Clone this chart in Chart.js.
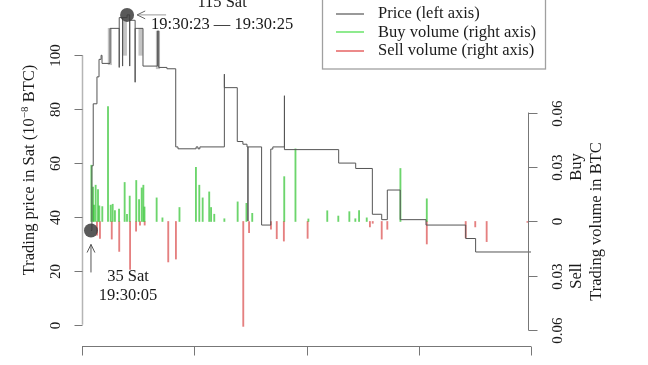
<!DOCTYPE html>
<html>
<head>
<meta charset="utf-8">
<script src="https://cdn.jsdelivr.net/npm/chart.js@4"></script>
<style>
  body { margin: 0; background: #fff; }
  #wrap { width: 648px; height: 365px; }
</style>
</head>
<body>
<div id="wrap"><canvas id="priceChart" width="648" height="365"></canvas></div>
<script>
// time axis is seconds after 19:30:00
const priceTimes = [4.8, 5.3, 6.0, 8.0, 9.1, 10.2, 10.7, 15.0, 19.9, 19.9, 21.7, 21.7, 24.1, 25.5, 25.5,
  28.4, 28.4, 32.6, 40.3, 41.0, 45.4, 50.1, 51.3, 61.0, 62.0, 63.0, 76.1, 76.1, 83.0, 86.0, 88.2,
  88.7, 88.7, 96.0, 100.9, 102.0, 108.2, 108.2, 137.2, 146.3, 155.2, 160.2, 163.2, 170.1, 183.9,
  205.1, 210.4, 240];
const priceValues = [35, 59, 82, 92, 98.5, 100, 97, 110, 95.5, 114, 96, 114, 115, 96, 113,
  90, 110, 96, 109, 95.5, 95, 66, 65.3, 66, 65.3, 66, 93, 88, 68, 67, 66,
  38.5, 66, 37, 65.2, 66, 85, 65, 60, 58, 41, 39, 50, 39, 37,
  32, 27, 27];

// low/high price range within a second
const rangeTimes = [14.9, 22.9, 31.3, 40.6];
const rangeLow = [96.5, 100, 100, 95];
const rangeHigh = [110, 113, 110, 109];

const buyTimes = [5.0, 5.9, 6.4, 7.3, 8.55, 9.25, 10.85, 13.9, 15.35, 16.4, 17.6, 19.8, 22.8, 24.05,
  25.5, 29.0, 30.5, 31.9, 32.8, 33.4, 39.9, 43.0, 52.1, 60.9, 62.7, 64.5, 68.0, 69.0, 70.7, 76.1,
  83.2, 87.9, 91.0, 108.1, 114.1, 121.0, 131.1, 137.0, 142.9, 146.1, 148.1, 152.2, 170.2, 184.3];
const buyVolumes = [0.031, 0.019, 0.009, 0.02, 0.0176, 0.0086, 0.0082, 0.0633, 0.009, 0.0095, 0.006,
  0.0068, 0.0215, 0.004, 0.014, 0.0226, 0.012, 0.0185, 0.02, 0.008, 0.013, 0.002, 0.0077, 0.0298,
  0.02, 0.013, 0.0163, 0.0077, 0.004, 0.0015, 0.0108, 0.01, 0.0045, 0.0247, 0.04, 0.0014, 0.0059,
  0.003, 0.0054, 0.0015, 0.006, 0.002, 0.0292, 0.0125];

const sellTimes = [8.0, 9.6, 15.9, 19.9, 25.7, 28.9, 31.0, 33.5, 46.1, 50.2, 86.2, 89.3, 101.0, 104.1,
  107.9, 120.6, 153.9, 155.4, 160.2, 163.2, 184.3, 205.1, 210.2, 216.3, 238.1];
const sellVolumes = [0.0075, 0.0094, 0.0097, 0.0165, 0.0264, 0.0053, 0.002, 0.002, 0.0223, 0.0207,
  0.0578, 0.0061, 0.0043, 0.0095, 0.0108, 0.0093, 0.003, 0.001, 0.0097, 0.0043, 0.0124, 0.009,
  0.003, 0.0111, 0.0005];

const priceTicks = [0, 20, 40, 60, 80, 100];
const volumeTicks = [0.06, 0.03, 0, -0.03, -0.06];
const timeTicks = [0, 60, 120, 180, 240];

const lowPoint = { t: 4.8, price: 35, label: ['35 Sat', '19:30:05'] };
const highPoint = { t: 24.1, price: 115, label: ['115 Sat', '19:30:23 \u2014 19:30:25'] };

const legendLabels = ['Price (left axis)', 'Buy volume (right axis)', 'Sell volume (right axis)'];
const legendColors = ['#555555', '#44dd44', '#e03c3c'];

const FONT = '"Liberation Serif", "DejaVu Serif", serif';

function rotText(ctx, parts, cx, cy) {
  // parts: [text, size, raise]
  let total = 0;
  parts.forEach(p => { ctx.font = p[1] + 'px ' + FONT; total += ctx.measureText(p[0]).width; });
  ctx.save();
  ctx.translate(cx, cy);
  ctx.rotate(-Math.PI / 2);
  ctx.textAlign = 'left';
  ctx.textBaseline = 'middle';
  let xx = -total / 2;
  parts.forEach(p => {
    ctx.font = p[1] + 'px ' + FONT;
    ctx.fillText(p[0], xx, -p[2]);
    xx += ctx.measureText(p[0]).width;
  });
  ctx.restore();
}

function arrowHead(ctx, x, y, ang) {
  const L = 9, a = 0.45;
  ctx.beginPath();
  ctx.moveTo(x + L * Math.cos(ang - a), y + L * Math.sin(ang - a));
  ctx.lineTo(x, y);
  ctx.lineTo(x + L * Math.cos(ang + a), y + L * Math.sin(ang + a));
  ctx.stroke();
}

const decorPlugin = {
  id: 'decor',
  afterDraw(chart) {
    const { ctx, chartArea } = chart;
    const xs = chart.scales.x, yP = chart.scales.yP, yV = chart.scales.yV;
    ctx.save();
    ctx.fillStyle = '#1a1a1a';

    // left axis
    const xl = chartArea.left + 0.5;
    ctx.strokeStyle = '#b5b5b5';
    ctx.lineWidth = 1.5;
    ctx.beginPath();
    ctx.moveTo(xl, yP.getPixelForValue(0));
    ctx.lineTo(xl, yP.getPixelForValue(100));
    ctx.stroke();
    ctx.strokeStyle = '#777';
    ctx.lineWidth = 1;
    priceTicks.forEach(v => {
      const y = Math.round(yP.getPixelForValue(v)) + 0.5;
      ctx.beginPath(); ctx.moveTo(xl - 8, y); ctx.lineTo(xl, y); ctx.stroke();
      rotText(ctx, [[String(v), 15, 0]], xl - 26, y);
    });
    rotText(ctx, [['Trading price in Sat (10', 16.5, 0], ['\u22128', 11, 5], [' BTC)', 16.5, 0]], 30, 170);

    // right axis
    const xr = chartArea.right - 2.5;
    ctx.beginPath();
    ctx.moveTo(xr, yV.getPixelForValue(0.06));
    ctx.lineTo(xr, yV.getPixelForValue(-0.06));
    ctx.stroke();
    volumeTicks.forEach(v => {
      const y = Math.round(yV.getPixelForValue(v)) + 0.5;
      ctx.beginPath(); ctx.moveTo(xr, y); ctx.lineTo(xr + 9, y); ctx.stroke();
      rotText(ctx, [[v === 0 ? '0' : Math.abs(v).toFixed(2), 15, 0]], xr + 30, y);
    });
    rotText(ctx, [['Buy', 16.5, 0]], 577, yV.getPixelForValue(0.03));
    rotText(ctx, [['Sell', 16.5, 0]], 577, yV.getPixelForValue(-0.03));
    rotText(ctx, [['Trading volume in BTC', 16.5, 0]], 597, yV.getPixelForValue(0));

    // bottom axis
    const yb = chartArea.bottom + 0.5;
    ctx.beginPath();
    ctx.moveTo(xs.getPixelForValue(0), yb);
    ctx.lineTo(xs.getPixelForValue(240), yb);
    ctx.stroke();
    timeTicks.forEach(t => {
      const x = Math.round(xs.getPixelForValue(t)) + 0.5;
      ctx.beginPath(); ctx.moveTo(x, yb); ctx.lineTo(x, yb + 9); ctx.stroke();
    });

    // annotations
    ctx.font = '16.5px ' + FONT;
    ctx.textAlign = 'center';
    ctx.textBaseline = 'middle';
    const lx = xs.getPixelForValue(lowPoint.t), ly = yP.getPixelForValue(lowPoint.price);
    ctx.strokeStyle = '#555';
    ctx.beginPath(); ctx.moveTo(lx, ly + 42); ctx.lineTo(lx, ly + 14); ctx.stroke();
    arrowHead(ctx, lx, ly + 14, Math.PI / 2);
    ctx.fillText(lowPoint.label[0], lx + 37, ly + 46);
    ctx.fillText(lowPoint.label[1], lx + 37, ly + 65);

    const hx = xs.getPixelForValue(highPoint.t), hy = yP.getPixelForValue(highPoint.price);
    ctx.strokeStyle = '#999';
    ctx.beginPath(); ctx.moveTo(hx + 39, hy); ctx.lineTo(hx + 10, hy); ctx.stroke();
    ctx.strokeStyle = '#666';
    arrowHead(ctx, hx + 10, hy, 0);
    ctx.fillText(highPoint.label[0], hx + 95, hy - 12);
    ctx.fillText(highPoint.label[1], hx + 95, hy + 10);

    // legend
    ctx.fillStyle = '#fff';
    ctx.fillRect(322, -5, 224, 74);
    ctx.strokeStyle = '#a0a0a0';
    ctx.lineWidth = 1.3;
    ctx.strokeRect(322.5, -5, 223, 74);
    ctx.textAlign = 'left';
    ctx.fillStyle = '#1a1a1a';
    legendLabels.forEach((lab, i) => {
      const y = 14 + i * 18.4;
      ctx.strokeStyle = legendColors[i];
      ctx.lineWidth = 1.2;
      ctx.beginPath(); ctx.moveTo(336, Math.round(y)); ctx.lineTo(364, Math.round(y)); ctx.stroke();
      ctx.fillText(lab, 378, y);
    });
    ctx.restore();
  }
};

const ctx = document.getElementById('priceChart').getContext('2d');

const priceChart = new Chart(ctx, {
  type: 'bar',
  data: {
    datasets: [
      {
        type: 'line',
        label: 'extremes',
        data: [{ x: lowPoint.t, y: lowPoint.price }, { x: highPoint.t, y: highPoint.price }],
        yAxisID: 'yP',
        showLine: false,
        pointRadius: 7,
        pointBackgroundColor: 'rgba(60,60,60,0.85)',
        pointBorderWidth: 0,
        order: -1
      },
      {
        type: 'line',
        label: 'Price',
        data: priceTimes.map((t, i) => ({ x: t, y: priceValues[i] })),
        yAxisID: 'yP',
        stepped: true,
        borderColor: '#555555',
        borderWidth: 1,
        pointRadius: 0,
        fill: false,
        order: 0
      },
      {
        label: 'range',
        data: rangeTimes.map((t, i) => ({ x: t, y: [rangeLow[i], rangeHigh[i]] })),
        yAxisID: 'yP',
        backgroundColor: '#c4c4c4',
        barThickness: 3.5,
        grouped: false,
        order: 1
      },
      {
        label: 'Buy volume',
        data: buyTimes.map((t, i) => ({ x: t, y: buyVolumes[i] })),
        yAxisID: 'yV',
        backgroundColor: 'rgba(45,195,45,0.7)',
        barThickness: 1.2,
        grouped: false,
        order: 2
      },
      {
        label: 'Sell volume',
        data: sellTimes.map((t, i) => ({ x: t, y: -sellVolumes[i] })),
        yAxisID: 'yV',
        backgroundColor: 'rgba(215,60,60,0.65)',
        barThickness: 1.2,
        grouped: false,
        order: 2
      }
    ]
  },
  options: {
    responsive: false,
    devicePixelRatio: 1,
    animation: false,
    layout: { padding: { left: 82, right: 117, top: 0, bottom: 19 } },
    plugins: { legend: { display: false }, tooltip: { enabled: false } },
    scales: {
      x: { type: 'linear', min: 0, max: 240, offset: false, display: false },
      yP: { type: 'linear', position: 'left', min: -7.89, max: 117.93, display: false },
      yV: { type: 'linear', position: 'right', min: -0.06861, max: 0.11817, display: false }
    }
  },
  plugins: [decorPlugin]
});
</script>
</body>
</html>
